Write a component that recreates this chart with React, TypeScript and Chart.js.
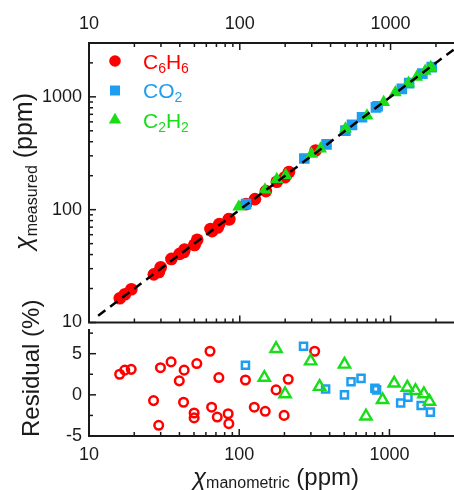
import { useEffect, useRef } from "react";
import { Chart, registerables } from "chart.js";

Chart.register(...registerables);

const FONT = '"Liberation Sans", Arial, Helvetica, sans-serif';
const INK = "#1a1a1a";

const seriesNames = ["C6H6", "CO2", "C2H2"];
const seriesColors = ["#FF0000", "#1E9EF0", "#19DD19"];

const xTickValues = [10, 100, 1000];
const xTickLabels = ["10", "100", "1000"];
const mainYTickValues = [10, 100, 1000];
const mainYTickLabels = ["10", "100", "1000"];
const residualTickValues = [-5, 0, 5];
const residualTickLabels = ["-5", "0", "5"];
const residualMinorTicks = [-2.5, 2.5, 7.5];

const fitLine = [11.5, 3000];

const c6h6Manometric = [16.0, 17.3, 19.1, 26.9, 29.1, 29.9, 35.2, 39.9, 42.6, 43.0, 50.1, 50.1, 52.2, 63.9, 65.5, 71.4, 73.2, 84.4, 85.3, 110, 126, 149, 176, 199, 212, 318];
const c6h6Measured = [16.4, 17.8, 19.7, 26.7, 28.0, 30.9, 36.6, 40.6, 42.2, 44.3, 49.0, 48.7, 54.2, 67.3, 64.5, 69.5, 74.7, 82.5, 82.3, 112, 124, 146, 177, 194, 216, 335];
const c6h6Residual = [2.5, 3.0, 3.1, -0.7, -3.7, 3.3, 4.0, 1.7, -0.9, 3.0, -2.2, -2.8, 3.8, 5.3, -1.5, -2.7, 2.1, -2.3, -3.5, 1.8, -1.5, -2.0, 0.6, -2.5, 1.9, 5.3];

const co2Manometric = [110, 268, 376, 502, 555, 647, 800, 821, 1188, 1328, 1626, 1874];
const co2Measured = [112, 284, 379, 502, 564, 660, 806, 826, 1176, 1324, 1605, 1835];
const co2Residual = [3.6, 5.9, 0.7, 0.0, 1.6, 2.0, 0.8, 0.6, -1.0, -0.3, -1.3, -2.1];

const c2h2Manometric = [98.5, 147, 176, 202, 299, 343, 502, 698, 900, 1075, 1315, 1492, 1696, 1846];
const c2h2Measured = [106, 150, 186, 202, 311, 346, 521, 680, 895, 1090, 1327, 1499, 1698, 1831];
const c2h2Residual: (number | null)[] = [null, 2.1, 5.6, 0.1, 4.1, 1.0, 3.7, -2.6, -0.6, 1.4, 0.9, 0.5, 0.1, -0.8];

const pts = (xs: number[], ys: (number | null)[]) => xs.map((x, i) => ({ x, y: ys[i] }));

type Seg = { t: string; size: number; dy?: number; italic?: boolean };

function drawRich(ctx: CanvasRenderingContext2D, segs: Seg[], x: number, y: number) {
  let cx = x;
  for (const s of segs) {
    ctx.font = `${s.italic ? "italic " : ""}${s.size}px ${FONT}`;
    ctx.fillText(s.t, cx, y + (s.dy || 0));
    cx += ctx.measureText(s.t).width;
  }
  return cx - x;
}

function formulaSegs(name: string, size: number, subSize: number, dy: number): Seg[] {
  return name.split("").map((ch) => (/\d/.test(ch) ? { t: ch, size: subSize, dy } : { t: ch, size }));
}

function logTicks(max: number) {
  const out: { v: number; major: boolean }[] = [];
  for (let e = 1; e <= 3; e++) {
    for (let m = 1; m <= 9; m++) {
      const v = m * Math.pow(10, e);
      if (v <= max) out.push({ v, major: m === 1 });
    }
  }
  return out;
}

function seg(ctx: CanvasRenderingContext2D, x1: number, y1: number, x2: number, y2: number) {
  ctx.beginPath();
  ctx.moveTo(x1, y1);
  ctx.lineTo(x2, y2);
  ctx.stroke();
}

function marker(ctx: CanvasRenderingContext2D, kind: number, x: number, y: number, color: string) {
  ctx.fillStyle = color;
  ctx.beginPath();
  if (kind === 0) {
    ctx.arc(x, y, 5.8, 0, Math.PI * 2);
  } else if (kind === 1) {
    ctx.rect(x - 5, y - 5, 10, 10);
  } else {
    const r = 7.2;
    ctx.moveTo(x, y - r);
    ctx.lineTo(x + r * Math.sin((2 * Math.PI) / 3), y + r / 2);
    ctx.lineTo(x - r * Math.sin((2 * Math.PI) / 3), y + r / 2);
    ctx.closePath();
  }
  ctx.fill();
}

const mainAxesPlugin = {
  id: "mainAxes",
  afterDatasetsDraw(chart: any) {
    const { ctx, chartArea: ca, scales } = chart;
    const xs = scales.x;
    const ys = scales.y;
    ctx.save();
    ctx.strokeStyle = INK;
    ctx.lineWidth = 2;
    ctx.beginPath();
    ctx.moveTo(ca.left, ca.bottom);
    ctx.lineTo(ca.left, ca.top);
    ctx.lineTo(ca.right, ca.top);
    ctx.lineTo(ca.right, ca.bottom);
    ctx.closePath();
    ctx.stroke();
    ctx.lineWidth = 1.5;
    for (const t of logTicks(3000)) {
      const len = t.major ? 7 : 4;
      const px = xs.getPixelForValue(t.v);
      seg(ctx, px, ca.top, px, ca.top + len);
      seg(ctx, px, ca.bottom, px, ca.bottom - len);
      const py = ys.getPixelForValue(t.v);
      seg(ctx, ca.left, py, ca.left + len, py);
      seg(ctx, ca.right, py, ca.right - len, py);
    }
    ctx.fillStyle = INK;
    ctx.font = `18px ${FONT}`;
    ctx.textAlign = "center";
    ctx.textBaseline = "alphabetic";
    xTickValues.forEach((v, i) => ctx.fillText(xTickLabels[i], xs.getPixelForValue(v), 29));
    ctx.textAlign = "right";
    ctx.textBaseline = "middle";
    mainYTickValues.forEach((v, i) => ctx.fillText(mainYTickLabels[i], 82, ys.getPixelForValue(v)));
    // y title
    ctx.textAlign = "left";
    ctx.textBaseline = "alphabetic";
    ctx.save();
    ctx.translate(32, 250);
    ctx.rotate(-Math.PI / 2);
    drawRich(ctx, [
      { t: "χ", size: 25, italic: true },
      { t: "measured", size: 16, dy: 5 },
      { t: " (ppm)", size: 25 },
    ], 0, 0);
    ctx.restore();
    // legend
    seriesNames.forEach((name, i) => {
      const cy = 61 + i * 29.5;
      marker(ctx, i, 115, cy, seriesColors[i]);
      ctx.fillStyle = seriesColors[i];
      drawRich(ctx, formulaSegs(name, 21, 14, 4), 143, cy + 7.5);
    });
    ctx.restore();
  },
};

const residualAxesPlugin = {
  id: "residualAxes",
  afterDatasetsDraw(chart: any) {
    const { ctx, chartArea: ca, scales } = chart;
    const xs = scales.x;
    const ys = scales.y;
    ctx.save();
    ctx.strokeStyle = INK;
    ctx.lineWidth = 2;
    ctx.beginPath();
    ctx.moveTo(ca.left, ca.top);
    ctx.lineTo(ca.left, ca.bottom);
    ctx.lineTo(ca.right, ca.bottom);
    ctx.lineTo(ca.right, ca.top);
    ctx.stroke();
    ctx.lineWidth = 1.5;
    for (const t of logTicks(3000)) {
      const len = t.major ? 7 : 4;
      const px = xs.getPixelForValue(t.v);
      seg(ctx, px, ca.bottom, px, ca.bottom - len);
    }
    residualTickValues.forEach((v) => {
      const py = ys.getPixelForValue(v);
      seg(ctx, ca.left, py, ca.left + 7, py);
      seg(ctx, ca.right, py, ca.right - 7, py);
    });
    residualMinorTicks.forEach((v) => {
      const py = ys.getPixelForValue(v);
      seg(ctx, ca.left, py, ca.left + 4, py);
      seg(ctx, ca.right, py, ca.right - 4, py);
    });
    ctx.fillStyle = INK;
    ctx.font = `18px ${FONT}`;
    ctx.textAlign = "center";
    ctx.textBaseline = "alphabetic";
    xTickValues.forEach((v, i) => ctx.fillText(xTickLabels[i], xs.getPixelForValue(v), ca.bottom + 24));
    ctx.textAlign = "right";
    ctx.textBaseline = "middle";
    residualTickValues.forEach((v, i) => ctx.fillText(residualTickLabels[i], 82, ys.getPixelForValue(v)));
    ctx.textAlign = "left";
    ctx.textBaseline = "alphabetic";
    // x title
    drawRich(ctx, [
      { t: "χ", size: 24, italic: true },
      { t: "manometric", size: 16, dy: 3 },
      { t: " (ppm)", size: 24 },
    ], 193, ca.bottom + 49);
    // y title
    ctx.save();
    ctx.translate(39, ca.bottom + 1);
    ctx.rotate(-Math.PI / 2);
    drawRich(ctx, [{ t: "Residual (%)", size: 24 }], 0, 0);
    ctx.restore();
    ctx.restore();
  },
};

export default function App() {
  const topRef = useRef<HTMLCanvasElement>(null);
  const botRef = useRef<HTMLCanvasElement>(null);

  useEffect(() => {
    const common = {
      animation: false as const,
      responsive: false,
      maintainAspectRatio: false,
      devicePixelRatio: 1,
      events: [] as any[],
    };
    const top = new Chart(topRef.current!, {
      type: "scatter",
      data: {
        datasets: [
          {
            label: "y = x",
            data: pts(fitLine, fitLine),
            showLine: true,
            borderColor: "#000",
            borderWidth: 2.5,
            borderDash: [9, 6],
            pointRadius: 0,
          },
          {
            label: seriesNames[2],
            data: pts(c2h2Manometric, c2h2Measured),
            pointStyle: "triangle",
            pointRadius: 7.5,
            backgroundColor: seriesColors[2],
            borderWidth: 0,
          },
          {
            label: seriesNames[1],
            data: pts(co2Manometric, co2Measured),
            pointStyle: "rect",
            pointRadius: 7.5,
            backgroundColor: seriesColors[1],
            borderWidth: 0,
          },
          {
            label: seriesNames[0],
            data: pts(c6h6Manometric, c6h6Measured),
            pointStyle: "circle",
            pointRadius: 6.3,
            backgroundColor: seriesColors[0],
            borderWidth: 0,
          },
        ] as any,
      },
      options: {
        ...common,
        layout: { padding: { left: 89, top: 43, right: 6, bottom: 2 } },
        scales: {
          x: { type: "logarithmic", min: 10, max: 3000, display: false },
          y: { type: "logarithmic", min: 10, max: 3000, display: false },
        },
        plugins: { legend: { display: false }, tooltip: { enabled: false } },
      },
      plugins: [mainAxesPlugin],
    } as any);

    const bot = new Chart(botRef.current!, {
      type: "scatter",
      data: {
        datasets: [
          {
            label: seriesNames[2],
            data: pts(c2h2Manometric, c2h2Residual),
            pointStyle: "triangle",
            pointRadius: 6.5,
            backgroundColor: "rgba(0,0,0,0)",
            borderColor: seriesColors[2],
            borderWidth: 2.4,
          },
          {
            label: seriesNames[1],
            data: pts(co2Manometric, co2Residual),
            pointStyle: "rect",
            pointRadius: 5,
            backgroundColor: "rgba(0,0,0,0)",
            borderColor: seriesColors[1],
            borderWidth: 2.5,
          },
          {
            label: seriesNames[0],
            data: pts(c6h6Manometric, c6h6Residual),
            pointStyle: "circle",
            pointRadius: 4.3,
            backgroundColor: "rgba(0,0,0,0)",
            borderColor: seriesColors[0],
            borderWidth: 2.5,
          },
        ] as any,
      },
      options: {
        ...common,
        layout: { padding: { left: 89, top: 39, right: 6, bottom: 54 } },
        scales: {
          x: { type: "logarithmic", min: 10, max: 3000, display: false },
          y: { type: "linear", min: -5, max: 8, display: false },
        },
        plugins: { legend: { display: false }, tooltip: { enabled: false } },
      },
      plugins: [residualAxesPlugin],
    } as any);

    return () => {
      top.destroy();
      bot.destroy();
    };
  }, []);

  return (
    <div
      style={{
        position: "fixed",
        left: 0,
        top: 0,
        width: 454,
        height: 490,
        overflow: "hidden",
        background: "#fff",
      }}
    >
      <canvas
        ref={topRef}
        width={470}
        height={330}
        style={{ position: "absolute", left: 0, top: 0, width: 470, height: 330 }}
      />
      <canvas
        ref={botRef}
        width={470}
        height={200}
        style={{ position: "absolute", left: 0, top: 290, width: 470, height: 200 }}
      />
    </div>
  );
}
